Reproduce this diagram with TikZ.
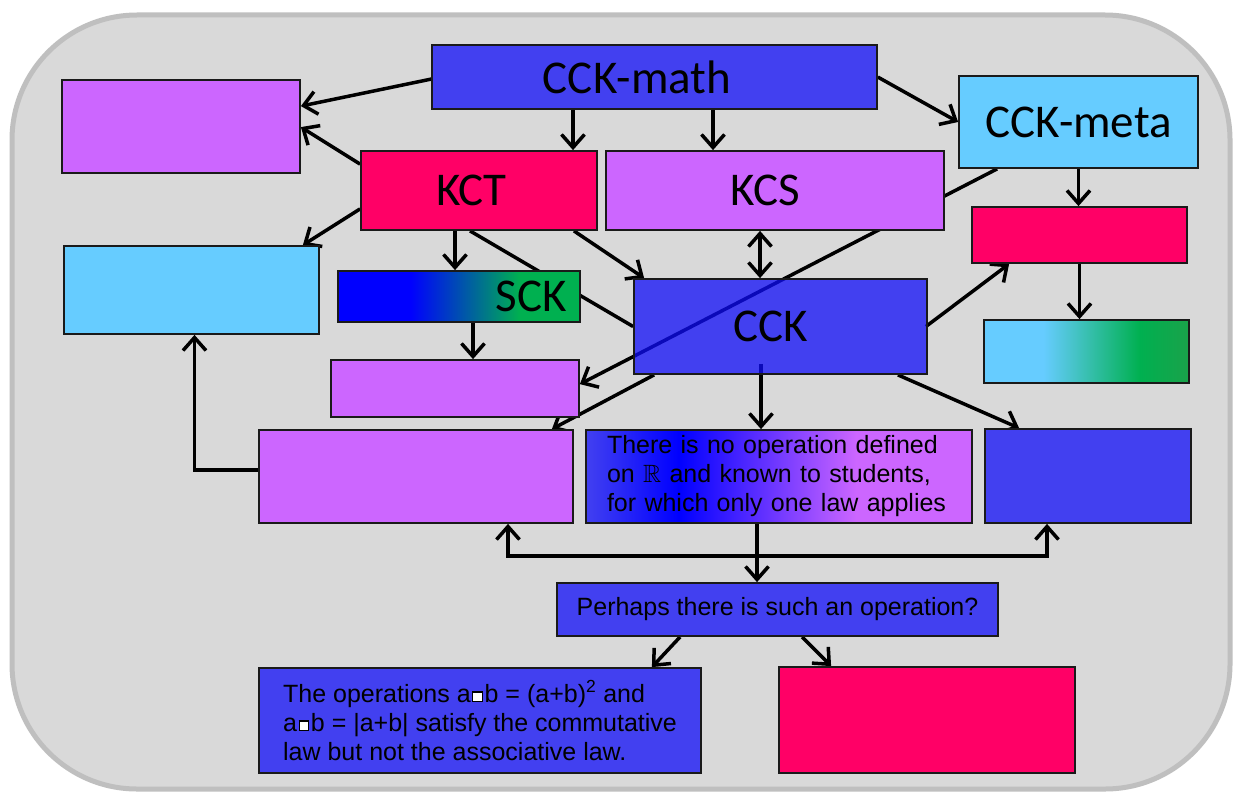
\documentclass[tikz,border=0pt]{standalone}
\usepackage{fontspec}
\usepackage{amssymb}
\usetikzlibrary{arrows.meta,calc}
\newfontfamily\bigf{Carlito}
\newfontfamily\smf{Liberation Sans}
\definecolor{bluebox}{RGB}{66,64,240}
\definecolor{cckfill}{RGB}{16,13,248}
\definecolor{purp}{HTML}{CC66FF}
\definecolor{redb}{HTML}{FF0066}
\definecolor{cyanb}{HTML}{66CCFF}
\definecolor{greenb}{HTML}{00B050}
\definecolor{greenc}{HTML}{1AA24A}
\definecolor{bgfill}{HTML}{D9D9D9}
\definecolor{bgline}{HTML}{BFBFBF}
\definecolor{pureblue}{HTML}{0000FF}
\definecolor{boxline}{HTML}{1A1A1A}
\pgfdeclarehorizontalshading{sckshade}{100bp}{color(0bp)=(pureblue); color(25bp)=(pureblue); color(40bp)=(pureblue); color(62.5bp)=(greenb); color(100bp)=(greenb)}
\pgfdeclarehorizontalshading{gshade}{100bp}{color(0bp)=(cyanb); color(25bp)=(cyanb); color(39.5bp)=(cyanb); color(63bp)=(greenb); color(75bp)=(greenc); color(100bp)=(greenc)}
\pgfdeclarehorizontalshading{noneshade}{100bp}{color(0bp)=(bluebox); color(25bp)=(bluebox); color(37bp)=(pureblue); color(60bp)=(purp); color(100bp)=(purp)}
\pgfdeclarelayer{back}
\pgfdeclarelayer{edges}
\pgfsetlayers{back,edges,main}
\newcommand{\sqop}{\kern1.5pt\raisebox{1pt}{\fboxsep=0pt\fboxrule=1.2pt\fcolorbox{black}{white}{\rule{0pt}{8.5pt}\rule{8.5pt}{0pt}}}\kern1.5pt}
\begin{document}
\begin{tikzpicture}[x=1pt,y=-1pt,
  >={Straight Barb[length=13pt,width=23pt,line width=3.5pt]},
  box/.style={draw=boxline, line width=1.8pt, inner sep=0pt, rectangle},
  bigtxt/.style={font=\bigf\fontsize{47}{50}\selectfont},
  smalltxt/.style={font=\smf\fontsize{25}{29}\selectfont},
  arr/.style={line width=3.5pt, ->},
  arrtwo/.style={line width=3.5pt, <->},
  plain/.style={line width=3.5pt}]
\useasboundingbox (0,0) rectangle (1233,792);
\begin{pgfonlayer}{back}
\fill[white] (0,0) rectangle (1233,792);
\draw[bgline, fill=bgfill, line width=5pt, rounded corners=125pt] (12,15) rectangle (1230,789);
\end{pgfonlayer}
% nodes
\node[box, bigtxt, fill=bluebox, minimum width=445pt, minimum height=64pt] (math) at (654.5,77) {CCK-math\hspace*{35pt}};
\node[box, fill=purp, minimum width=238pt, minimum height=93pt] (p1) at (181,126.5) {};
\node[box, bigtxt, fill=redb, minimum width=236pt, minimum height=79pt] (kct) at (479,190.5) {KCT\hspace*{15pt}};
\node[box, bigtxt, fill=purp, minimum width=338pt, minimum height=79pt] (kcs) at (775,190.5) {KCS\hspace*{20pt}};
\node[box, bigtxt, fill=cyanb, minimum width=239pt, minimum height=92pt] (meta) at (1078.5,122) {CCK-meta};
\node[box, fill=redb, minimum width=215pt, minimum height=56pt] (r1) at (1079.5,235) {};
\node[box, shading=gshade, minimum width=205pt, minimum height=63pt] (g1) at (1086.5,351.5) {};
\node[box, fill=cyanb, minimum width=255pt, minimum height=88pt] (c1) at (191.5,290) {};
\node[box, bigtxt, shading=sckshade, inner xsep=13pt, text width=216pt, align=right, minimum height=51pt] (sck) at (459,296.5) {SCK};
\node[box, bigtxt, fill=cckfill, fill opacity=0.75, text opacity=1, minimum width=293pt, minimum height=95pt] (cck) at (780.5,326.5) {CCK\hspace*{19pt}};
\node[box, fill=purp, minimum width=248pt, minimum height=57pt] (p2) at (455,388.5) {};
\node[box, fill=purp, minimum width=314pt, minimum height=93pt] (p3) at (416,476.5) {};
\node[box, smalltxt, shading=noneshade, inner xsep=21pt, text width=344pt, align=left, minimum height=93pt] (none) at (779,476.5) {There is no operation defined\\on $\mathbb{R}$ and known to students,\\for which only one law applies};
\node[box, fill=bluebox, minimum width=206pt, minimum height=94pt] (b1) at (1088,476) {};
\node[box, smalltxt, fill=bluebox, minimum width=441pt, minimum height=53pt] (perh) at (777.5,609.5) {Perhaps there is such an operation?};
\node[box, smalltxt, fill=bluebox, align=left, minimum width=442pt, minimum height=105pt] (ops) at (480,720.5) {The operations a\sqop b = (a+b)\textsuperscript{2} and\\a\sqop b = |a+b| satisfy the commutative\\law but not the associative law.\hspace*{6pt}};
\node[box, fill=redb, minimum width=296pt, minimum height=106pt] (r2) at (927,720) {};
% connectors
\begin{pgfonlayer}{edges}
\draw[arr] ([yshift=-35pt]math.north west) -- ([yshift=-27pt]p1.north east);
\draw[arr] ([yshift=-14pt]kct.north west) -- ([yshift=-48pt]p1.north east);
\draw[arr] ([xshift=-81.5pt]math.south) -- ([xshift=94pt]kct.north);
\draw[arr] ([xshift=58.5pt]math.south) -- ([xshift=-62pt]kcs.north);
\draw[arr] ([yshift=-33pt]math.north east) -- (meta.west);
\draw[arr] ([yshift=22pt]kct.south west) -- ([xshift=-17pt]c1.north east);
\draw[arr] ([xshift=-24pt]kct.south) -- ([xshift=-4pt]sck.north);
\draw[arr] ([xshift=-24pt]kct.south east) -- ([xshift=11pt]cck.north west);
\draw[plain] ([xshift=-9pt]kct.south) -- (cck.west);
\draw[arrtwo] ([xshift=-15pt]kcs.south) -- ([xshift=-20.5pt]cck.north);
\draw[arr] ([xshift=39pt]meta.south west) -- ([yshift=-25pt]p2.north east);
\draw[arr] ([xshift=-19.5pt,yshift=11pt]cck.south) -- ([xshift=-18pt]none.north);
\draw[arr] ([xshift=-2pt]cck.east) -- ([xshift=38pt]r1.south west);
\draw[arr] ([xshift=-30pt]cck.south east) -- ([xshift=35pt]b1.north west);
\draw[arr] ([xshift=21pt]cck.south west) -- ([xshift=-22pt]p3.north east);
\draw[arr] (meta.south) -- (meta.south |- r1.north);
\draw[arr] (r1.south) -- (r1.south |- g1.north);
\draw[arr] ([xshift=14pt]sck.south) -- ([xshift=18pt]p2.north);
\draw[arr] ([yshift=6.5pt]p3.west) -| ([xshift=3pt]c1.south);
\draw[arr] ([xshift=-22pt]none.south) -- ([xshift=-20.5pt]perh.north);
\draw[arrtwo] ([xshift=92pt]p3.south) |- ([xshift=-41pt,yshift=-32pt]b1.south) -- ([xshift=-41pt]b1.south);
\draw[arr] ([xshift=124pt]perh.south west) -- ([xshift=-50pt]ops.north east);
\draw[arr] ([xshift=246pt]perh.south west) -- ([xshift=53pt]r2.north west);
\end{pgfonlayer}
\end{tikzpicture}
\end{document}
